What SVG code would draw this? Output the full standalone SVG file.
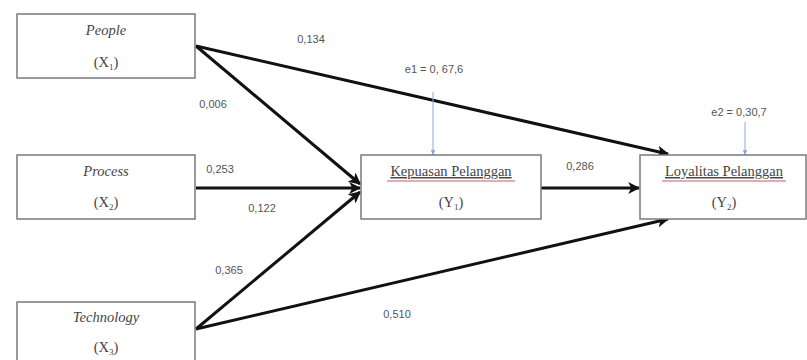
<svg xmlns="http://www.w3.org/2000/svg" width="807" height="360" viewBox="0 0 807 360">
<defs>
<marker id="ah" viewBox="0 0 10 10" refX="9" refY="5" markerWidth="4" markerHeight="4" orient="auto" markerUnits="strokeWidth">
<path d="M0,0 L10,5 L0,10 L2.5,5 z" fill="#111"/>
</marker>
<marker id="ahb" viewBox="0 0 10 10" refX="9" refY="5" markerWidth="6" markerHeight="6" orient="auto" markerUnits="strokeWidth">
<path d="M0,1 L10,5 L0,9 z" fill="#8ea9d8"/>
</marker>
<style>
.box{fill:#fff;stroke:#7a7a7a;stroke-width:1.5}
.t{font-family:"Liberation Serif",serif;font-size:14.5px;fill:#444;text-anchor:middle}
.ti{font-style:italic}
.sub{font-size:9px}
.n{font-family:"Liberation Sans",Arial,sans-serif;font-size:11px;fill:#555;text-anchor:middle}
.arr{stroke:#111;stroke-width:3;fill:none;marker-end:url(#ah)}
.err{stroke:#8ea9d8;stroke-width:1;fill:none;marker-end:url(#ahb)}
.ul{stroke:#c06060;stroke-width:1}
</style>
</defs>
<rect width="807" height="360" fill="#fff"/>
<g id="connectors">
<line class="arr" x1="196" y1="46" x2="668" y2="154"/>
<line class="arr" x1="196" y1="46" x2="360" y2="184"/>
<line class="arr" x1="196" y1="188" x2="360" y2="188"/>
<line class="arr" x1="196" y1="329" x2="360" y2="192"/>
<line class="arr" x1="196" y1="329" x2="668" y2="219"/>
<line class="arr" x1="541" y1="188" x2="639" y2="188"/>
<line class="err" x1="433" y1="92" x2="433" y2="155"/>
<line class="err" x1="745" y1="122" x2="745" y2="155"/>
<text class="n" x="311" y="43">0,134</text>
<text class="n" x="213" y="108">0,006</text>
<text class="n" x="220" y="173">0,253</text>
<text class="n" x="262" y="212">0,122</text>
<text class="n" x="229" y="274">0,365</text>
<text class="n" x="397" y="318">0,510</text>
<text class="n" x="580" y="170">0,286</text>
<text class="n" x="434" y="73">e1 = 0, 67,6</text>
<text class="n" x="739" y="116">e2 = 0,30,7</text>
</g>
<g id="people">
<rect class="box" x="17" y="14" width="178" height="64"/>
<text class="t ti" x="106" y="35">People</text>
<text class="t" x="106" y="67">(X<tspan class="sub" dy="3">1</tspan><tspan dy="-3">)</tspan></text>
</g>
<g id="process">
<rect class="box" x="17" y="155" width="178" height="64"/>
<text class="t ti" x="106" y="176">Process</text>
<text class="t" x="106" y="207">(X<tspan class="sub" dy="3">2</tspan><tspan dy="-3">)</tspan></text>
</g>
<g id="technology">
<rect class="box" x="17" y="302" width="178" height="70"/>
<text class="t ti" x="106" y="322">Technology</text>
<text class="t" x="106" y="352">(X<tspan class="sub" dy="3">3</tspan><tspan dy="-3">)</tspan></text>
</g>
<g id="kepuasan">
<rect class="box" x="361" y="155" width="180" height="64"/>
<text class="t" x="451" y="176" text-decoration="underline">Kepuasan Pelanggan</text>
<line class="ul" x1="387" y1="181" x2="515" y2="181"/>
<text class="t" x="451" y="207">(Y<tspan class="sub" dy="3">1</tspan><tspan dy="-3">)</tspan></text>
</g>
<g id="loyalitas">
<rect class="box" x="640" y="155" width="166" height="64"/>
<text class="t" x="724" y="176" text-decoration="underline">Loyalitas Pelanggan</text>
<line class="ul" x1="662" y1="181" x2="786" y2="181"/>
<text class="t" x="724" y="207">(Y<tspan class="sub" dy="3">2</tspan><tspan dy="-3">)</tspan></text>
</g>
</svg>
